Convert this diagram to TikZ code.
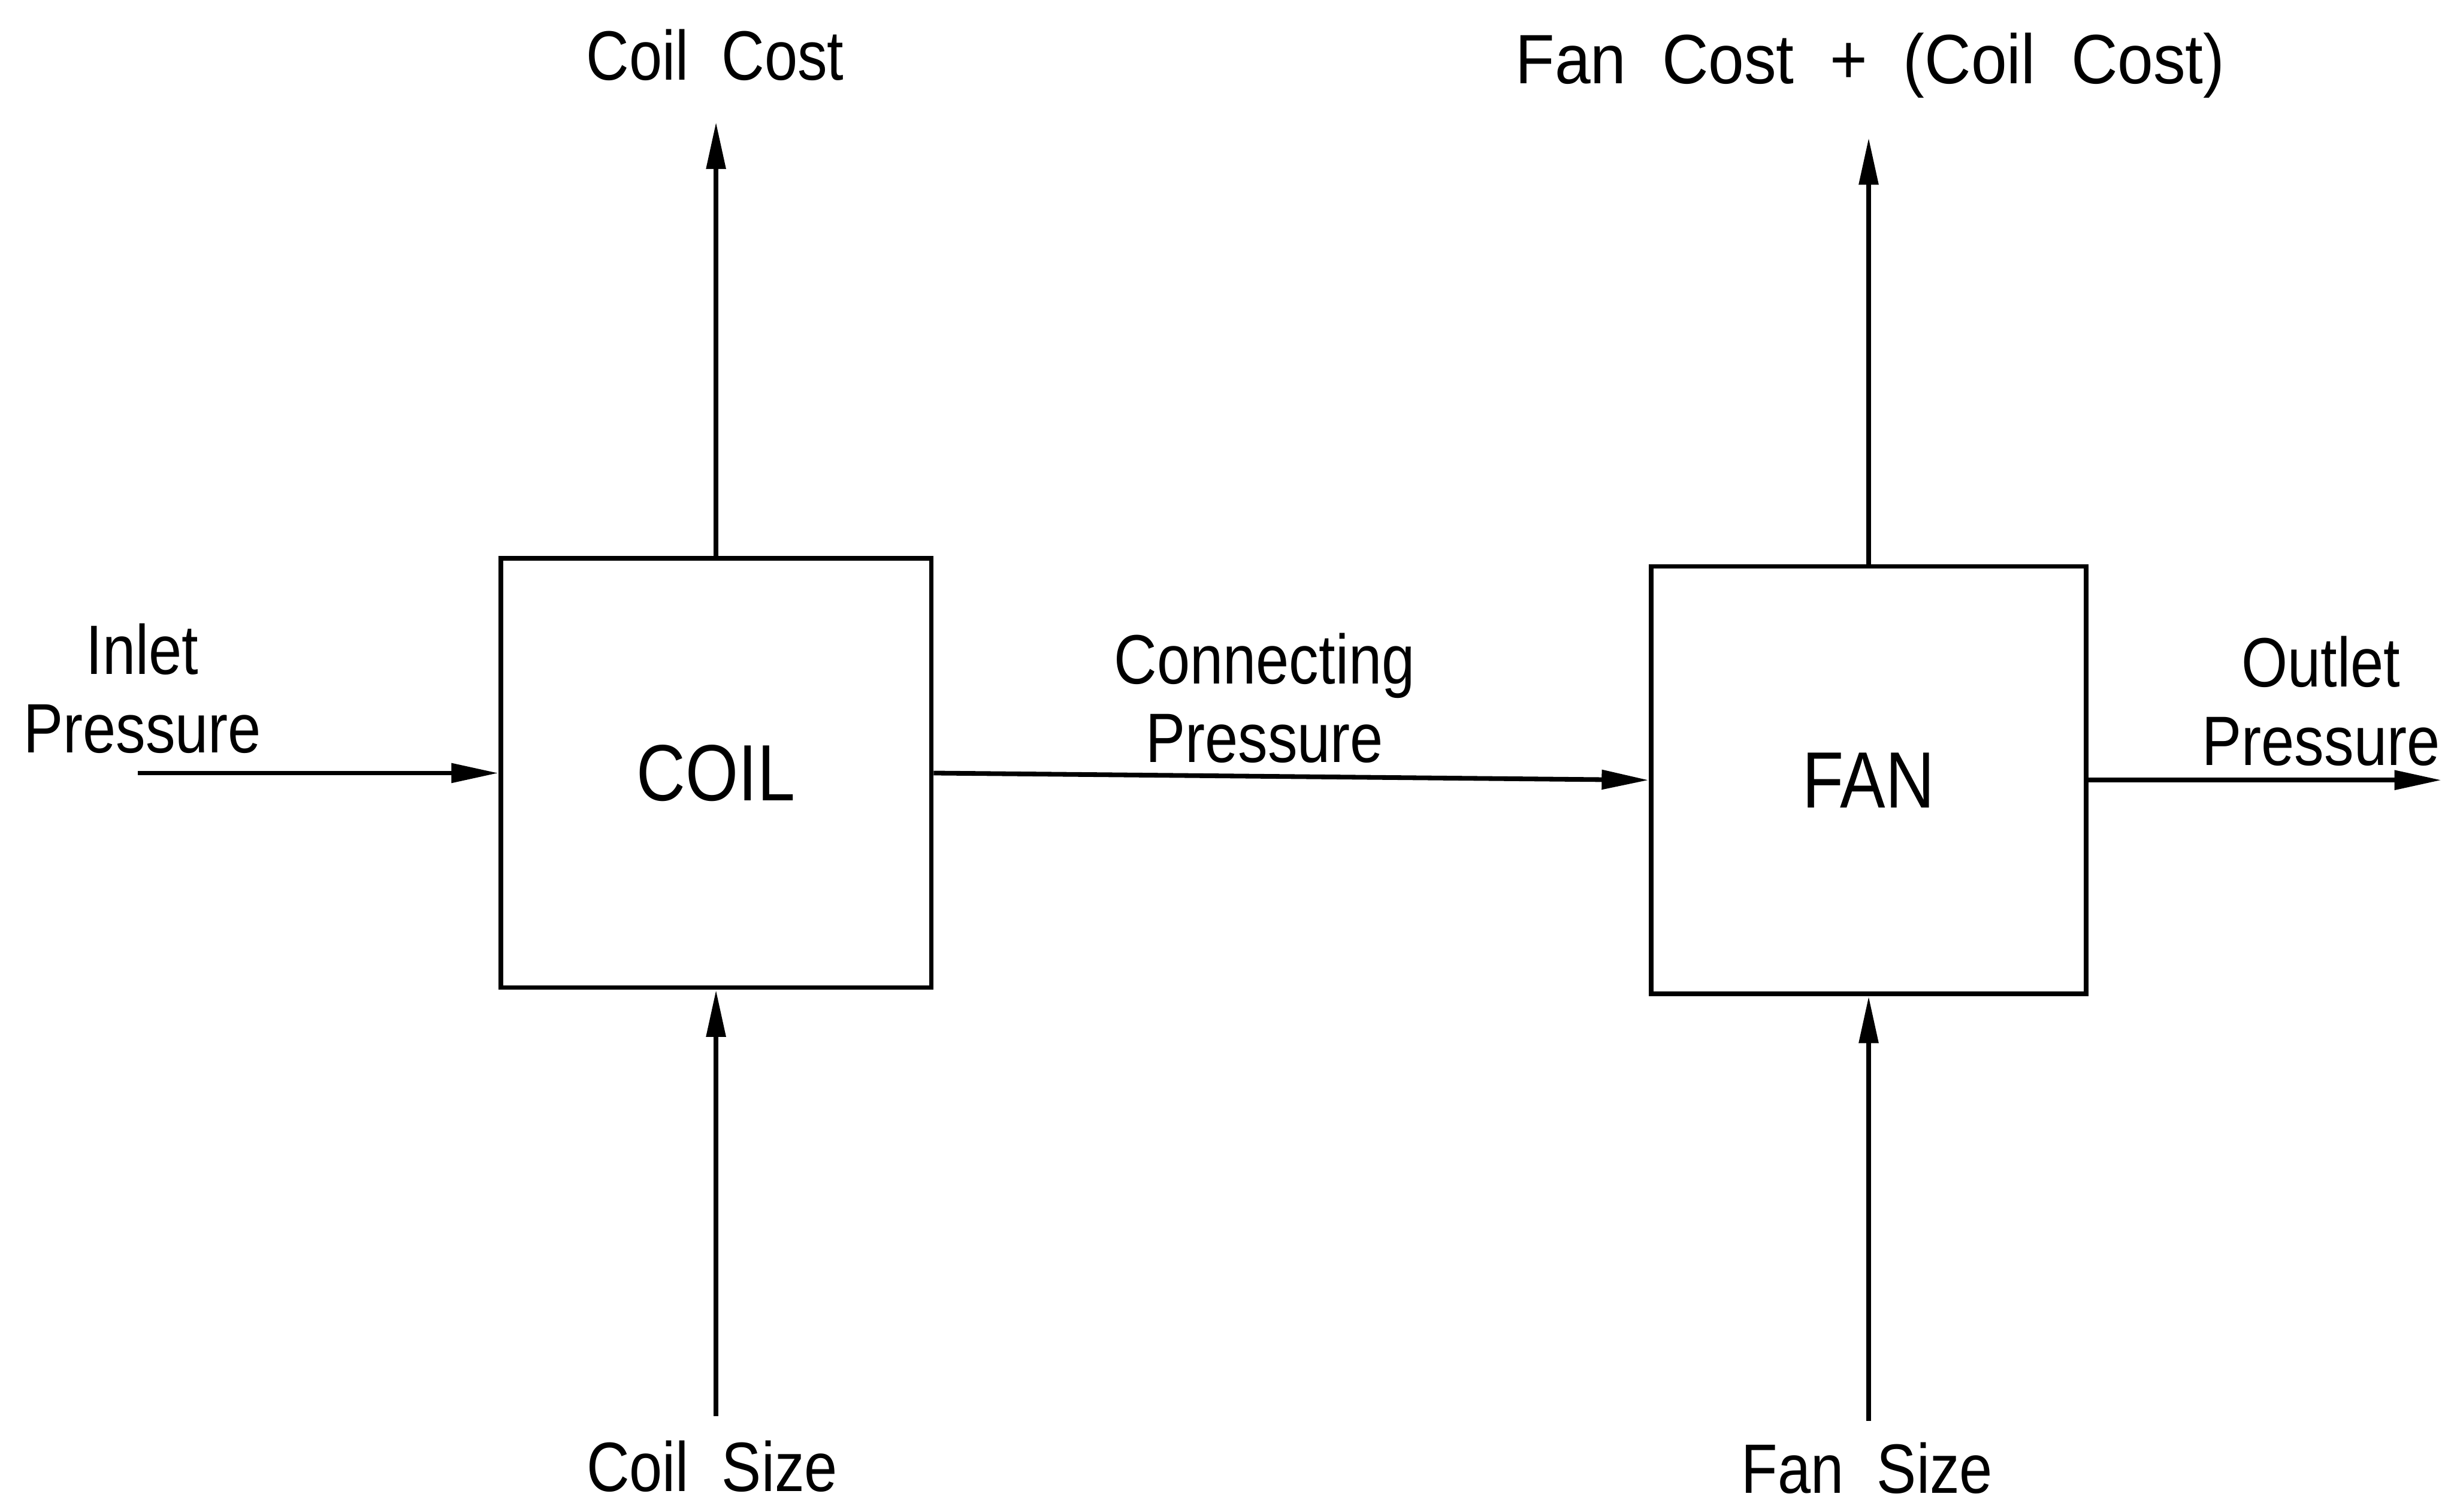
\documentclass[tikz,border=0pt]{standalone}
\usepackage{fontspec}
\usepackage{graphicx}
\setmainfont{Liberation Sans}
\usetikzlibrary{arrows.meta}
\newcommand{\nx}[1]{\scalebox{0.85}[1]{#1}}
\begin{document}
\begin{tikzpicture}[x=0.01cm,y=-0.01cm,
  blk/.style={draw,line width=0.85pt,minimum width=2.75cm,minimum height=2.74cm,inner sep=0pt,
     font=\fontsize{14.5}{16}\selectfont},
  flow/.style={line width=0.85pt,-{Triangle[length=0.3cm,width=0.12cm]}},
  lbl/.style={inner sep=0pt,align=center,font=\fontsize{12.7}{14.2}\selectfont}]
\useasboundingbox (0,0) rectangle (1568,966);
\node[blk] (coil) at (457.5,494) {\nx{COIL}};
\node[blk,minimum width=2.78cm,minimum height=2.73cm] (fan) at (1194,498.5) {\nx{FAN}};
\coordinate (in) at (88,494);
\coordinate (out) at (1560,498.5);
\coordinate (cc) at (457.5,78);
\coordinate (cs) at (457.5,905);
\coordinate (fc) at (1194,88);
\coordinate (fs) at (1194,908);
\draw[flow] (in) -- (coil.west);
\draw[flow] (coil.east) -- (fan.west);
\draw[flow] (fan.east) -- (out);
\draw[flow] (coil.north) -- (cc);
\draw[flow] (cs) -- (coil.south);
\draw[flow] (fan.north) -- (fc);
\draw[flow] (fs) -- (fan.south);
\node[lbl] (lcc) at (457,35) {\nx{Coil\ \ Cost}};
\node[lbl] (lfc) at (1195,42) {\scalebox{0.92}[1]{Fan\ \ Cost\ \ +\ \ (Coil\ \ Cost)}};
\node[lbl] (lin) at (91,440) {\nx{Inlet}\\\nx{Pressure}};
\node[lbl] (lcp) at (808,446) {\nx{Connecting}\\\nx{Pressure}};
\node[lbl] (lop) at (1483,448) {\nx{Outlet}\\\nx{Pressure}};
\node[lbl] (lcs) at (455,937) {\nx{Coil\ \ Size}};
\node[lbl] (lfs) at (1193,938) {\nx{Fan\ \ Size}};
\end{tikzpicture}
\end{document}
